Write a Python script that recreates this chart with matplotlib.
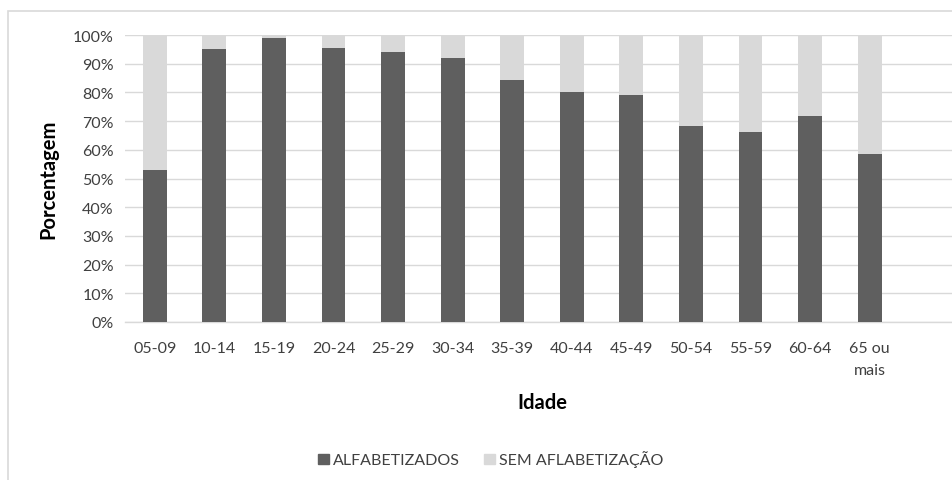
import matplotlib.pyplot as plt
from matplotlib.patches import Rectangle, Patch
from matplotlib.ticker import PercentFormatter

plt.rcParams['font.family'] = ['Lato', 'DejaVu Sans']

# Faixas etárias e percentual de alfabetizados em cada uma
idades = ['05-09', '10-14', '15-19', '20-24', '25-29', '30-34', '35-39',
          '40-44', '45-49', '50-54', '55-59', '60-64', '65 ou\nmais']
alfabetizados = [52.8, 95.2, 98.8, 95.6, 94.2, 92.0, 84.2,
                 80.1, 79.1, 68.4, 66.2, 71.9, 58.6]
sem_alfabetizacao = [100 - v for v in alfabetizados]

escuro = '#5f5f5f'
claro = '#d9d9d9'
W, H = 952, 481

fig = plt.figure(figsize=(W / 100, H / 100), dpi=100)

# moldura da área do gráfico
fig.patches.append(Rectangle((8 / W, -0.1), 1.2, 1 - 12 / H + 0.1,
                             transform=fig.transFigure, fill=False,
                             edgecolor=claro, linewidth=1.2))

ax = fig.add_axes([125 / W, 1 - 323 / H, (959 - 125) / W, (323 - 36) / H])
x = range(len(idades))
ax.bar(x, alfabetizados, width=0.4, color=escuro, zorder=3)
ax.bar(x, sem_alfabetizacao, width=0.4, bottom=alfabetizados, color=claro, zorder=3)

ax.set_xlim(-0.5, 13.5)
ax.set_ylim(0, 100)
ax.set_yticks(range(0, 101, 10))
ax.yaxis.set_major_formatter(PercentFormatter(decimals=0))
ax.set_xticks(list(x))
ax.set_xticklabels(idades, linespacing=1.65)
ax.tick_params(axis='both', length=0, labelsize=11.5, colors='#404040')
ax.tick_params(axis='x', pad=14)
ax.tick_params(axis='y', pad=8)
for lbl in ax.get_xticklabels():
    lbl.set_verticalalignment('top')

ax.grid(axis='y', color=claro, linewidth=1, zorder=0)
for s in ['top', 'right', 'left']:
    ax.spines[s].set_visible(False)
ax.spines['bottom'].set_color(claro)
ax.spines['bottom'].set_linewidth(1)

fig.text(48 / W, 1 - 179 / H, 'Porcentagem', rotation=90, ha='center', va='center',
         fontsize=14.5, fontweight='bold', color='#000000')
fig.text(542 / W, 1 - 403 / H, 'Idade', ha='center', va='center',
         fontsize=14.5, fontweight='bold', color='#000000')

handles = [Patch(color=escuro, label='ALFABETIZADOS'),
           Patch(color=claro, label='SEM AFLABETIZAÇÃO')]
fig.legend(handles=handles, loc='center', bbox_to_anchor=(491 / W, 1 - 460 / H),
           ncol=2, frameon=False, fontsize=11.5, handlelength=0.65, handleheight=0.65,
           handletextpad=0.3, columnspacing=1.5, labelcolor='#404040')

fig.savefig('out.png', dpi=100)
